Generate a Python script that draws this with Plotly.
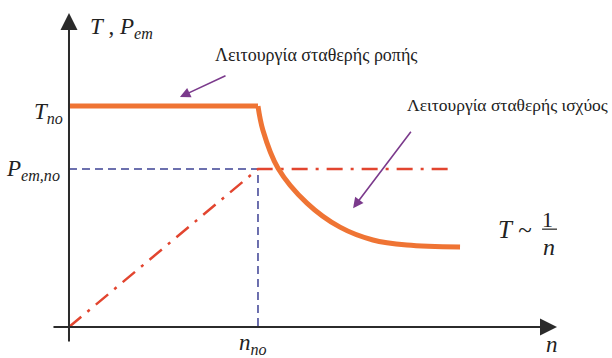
import plotly.graph_objects as go

# ---- data (normalised: n_no = 1, T_no = 1) ----
T_no = 1.0
P_em_no = 0.715
torque_n = [0.0, 1.0]
torque_T = [T_no, T_no]
curve_n = [1.0, 1.026, 1.106, 1.259, 1.434, 1.608, 1.788, 2.069]
curve_T = [1.0, 0.891, 0.719, 0.561, 0.452, 0.394, 0.371, 0.362]
power_n = [0.0, 1.0, 2.032]
power_P = [0.0, P_em_no, P_em_no]

ORANGE = "#ef7434"
RED = "#e2452f"
NAVY = "#3d4194"
PURPLE = "#7b3a8c"
AXIS = "#2b2b2b"
SERIF = "Liberation Serif"

fig = go.Figure()

# reference dashed lines
fig.add_trace(go.Scatter(x=[0, 1.0, 1.0], y=[P_em_no, P_em_no, 0], mode="lines",
                         line=dict(color=NAVY, width=1.5, dash="8px,5px"), hoverinfo="skip"))
# power (dash-dot)
fig.add_trace(go.Scatter(x=power_n, y=power_P, mode="lines",
                         line=dict(color=RED, width=2.5, dash="16px,8px,3px,8px"), hoverinfo="skip"))
# torque constant + hyperbola
fig.add_trace(go.Scatter(x=torque_n, y=torque_T, mode="lines",
                         line=dict(color=ORANGE, width=5), hoverinfo="skip"))
fig.add_trace(go.Scatter(x=curve_n, y=curve_T, mode="lines", line_shape="spline",
                         line=dict(color=ORANGE, width=5), hoverinfo="skip"))

ann = []
# axes as arrows
ann.append(dict(x=2.582, y=0, ax=-0.09, ay=0, xref="x", yref="y", axref="x", ayref="y",
                showarrow=True, arrowhead=2, arrowsize=1.7, arrowwidth=2, arrowcolor=AXIS, text=""))
ann.append(dict(x=0, y=1.421, ax=0, ay=-0.072, xref="x", yref="y", axref="x", ayref="y",
                showarrow=True, arrowhead=2, arrowsize=1.7, arrowwidth=2, arrowcolor=AXIS, text=""))
# purple pointer arrows
ann.append(dict(x=0.587, y=1.041, ax=0.836, ay=1.140, xref="x", yref="y", axref="x", ayref="y",
                showarrow=True, arrowhead=2, arrowsize=1.3, arrowwidth=1.6, arrowcolor=PURPLE, text=""))
ann.append(dict(x=1.503, y=0.538, ax=1.815, ay=0.891, xref="x", yref="y", axref="x", ayref="y",
                showarrow=True, arrowhead=2, arrowsize=1.3, arrowwidth=1.6, arrowcolor=PURPLE, text=""))

def txt(x, y, s, size, xanchor="center", color="#222"):
    ann.append(dict(x=x, y=y, xref="x", yref="y", text=s, showarrow=False, xanchor=xanchor,
                    yanchor="middle", font=dict(family=SERIF, size=size, color=color)))

txt(0.100, 1.353, "<i>T</i> , <i>P</i><sub><i>em</i></sub>", 23, xanchor="left")
txt(-0.021, 0.968, "<i>T</i><sub><i>no</i></sub>", 23, xanchor="right")
txt(-0.037, 0.710, "<i>P</i><sub><i>em,no</i></sub>", 23, xanchor="right")
txt(0.971, -0.078, "<i>n</i><sub><i>no</i></sub>", 23)
txt(2.556, -0.078, "<i>n</i>", 23)
txt(0.762, 1.231, "Λειτουργία σταθερής ροπής", 18, xanchor="left")
txt(1.778, 1.005, "Λειτουργία σταθερής ισχύος", 17.5, xanchor="left")
txt(2.360, 0.443, "<i>T</i> ~", 25)
txt(2.534, 0.488, "1", 22)
txt(2.542, 0.362, "<i>n</i>", 24)

fig.update_layout(
    width=612, height=358,
    margin=dict(l=0, r=0, t=0, b=0),
    paper_bgcolor="white", plot_bgcolor="white",
    showlegend=False,
    xaxis=dict(range=[-0.365, 2.873], visible=False, fixedrange=True),
    yaxis=dict(range=[-0.140, 1.480], visible=False, fixedrange=True),
    annotations=ann,
    shapes=[dict(type="line", xref="x", yref="y", x0=2.503, x1=2.582, y0=0.443, y1=0.443,
                 line=dict(color="#222", width=1.2))],
)

fig.write_html("out.html", config={"displayModeBar": False},
               post_script="document.body.style.margin='0';document.body.style.overflow='hidden';")
